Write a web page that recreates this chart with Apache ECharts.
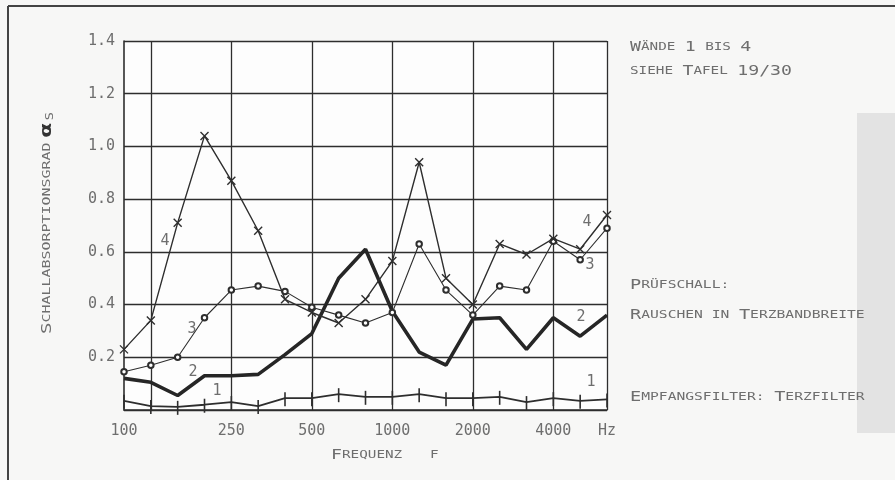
<!DOCTYPE html>
<html>
<head>
<meta charset="utf-8">
<script src="https://cdn.jsdelivr.net/npm/echarts@6/dist/echarts.min.js"></script>
<style>
html,body{margin:0;padding:0;background:#f7f7f6;}
#c{width:895px;height:480px;}
</style>
</head>
<body>
<div id="c"></div>
<script>
// Third-octave band centre frequencies (Hz)
const freqs = ['100','125','160','200','250','315','400','500','630','800','1000','1250','1600','2000','2500','3150','4000','5000','6300'];
// Sound absorption coefficient alpha_s for walls 1..4
const wall1 = [0.035,0.015,0.012,0.02,0.03,0.015,0.045,0.045,0.06,0.05,0.05,0.06,0.045,0.045,0.05,0.03,0.045,0.035,0.04];
const wall2 = [0.12,0.105,0.055,0.13,0.13,0.135,0.21,0.29,0.50,0.61,0.375,0.22,0.17,0.345,0.35,0.23,0.35,0.28,0.36];
const wall3 = [0.145,0.17,0.20,0.35,0.455,0.47,0.45,0.39,0.36,0.33,0.37,0.63,0.455,0.36,0.47,0.455,0.64,0.57,0.69];
const wall4 = [0.23,0.34,0.71,1.04,0.87,0.68,0.42,0.37,0.33,0.42,0.565,0.94,0.50,0.40,0.63,0.59,0.65,0.61,0.74];
// Tick labels on the frequency axis and vertical grid line frequencies
const xTickLabels = {'100':'100','250':'250','500':'500','1000':'1000','2000':'2000','4000':'4000','6300':'Hz'};
const gridFreqs = ['125','250','500','1000','2000','4000','6300'];
const yTicks = [0.2,0.4,0.6,0.8,1.0,1.2,1.4];

const FONT = 'DejaVu Sans Mono';
const INK = '#2e2e2e';
const GREY = '#6e6e6e';

const chart = echarts.init(document.getElementById('c'), null, {renderer:'canvas'});

const richSC = {
  b:{fontFamily:FONT,fontSize:14,fill:GREY},
  s:{fontFamily:FONT,fontSize:11,fill:GREY},
  n:{fontFamily:FONT,fontSize:14,fill:GREY}
};

function scText(x, y, txt, scaleX){
  return {type:'text', x:x, y:y, scaleX:scaleX, z:10,
    style:{text:txt, rich:richSC, fontFamily:FONT, fill:GREY, verticalAlign:'middle', align:'left'}};
}
function num(x, y, t){
  return {type:'text', x:x, y:y, z:10, style:{text:t, fontFamily:FONT, fontSize:15, fill:GREY, align:'center', verticalAlign:'middle'}};
}

const option = {
  animation:false,
  backgroundColor:'#f7f7f6',
  grid:{left:124, top:41, width:483, height:369, show:true, backgroundColor:'#fdfdfd', borderWidth:0},
  xAxis:{
    type:'category', data:freqs, boundaryGap:false,
    axisLine:{show:true, lineStyle:{color:INK, width:1.6}},
    axisTick:{show:false},
    axisLabel:{
      interval:(i, v)=> xTickLabels[v] !== undefined,
      formatter:(v)=> xTickLabels[v] || '',
      fontFamily:FONT, fontSize:15, color:GREY, margin:14
    },
    splitLine:{show:true, interval:(i, v)=> gridFreqs.indexOf(v) >= 0, lineStyle:{color:INK, width:1.3}}
  },
  yAxis:{
    type:'value', min:0, max:1.4, interval:0.2,
    axisLine:{show:true, lineStyle:{color:INK, width:1.6}},
    axisTick:{show:false},
    axisLabel:{
      formatter:(v)=> yTicks.some(t=>Math.abs(t-v)<1e-6) ? v.toFixed(1) : '',
      fontFamily:FONT, fontSize:15, color:GREY, margin:9
    },
    splitLine:{show:true, lineStyle:{color:INK, width:1.3}}
  },
  series:[
    {name:'1', type:'line', data:wall1, z:3,
      lineStyle:{color:INK, width:1.8},
      symbol:'rect', symbolSize:[1.6,14], symbolOffset:[0,1], showAllSymbol:true,
      itemStyle:{color:INK}},
    {name:'2', type:'line', data:wall2, z:4,
      lineStyle:{color:'#262626', width:3.6}, symbol:'none'},
    {name:'3', type:'line', data:wall3, z:5,
      lineStyle:{color:INK, width:1.1},
      symbol:'emptyCircle', symbolSize:5.5, showAllSymbol:true,
      itemStyle:{color:INK, borderColor:'#3a3a3a', borderWidth:0.9}},
    {name:'4', type:'line', data:wall4, z:6,
      lineStyle:{color:INK, width:1.4},
      symbol:'path://M0,0L10,10M10,0L0,10', symbolSize:8, showAllSymbol:true,
      itemStyle:{color:'none', borderColor:INK, borderWidth:1.4}}
  ],
  graphic:[
    {type:'line', shape:{x1:8,y1:6,x2:895,y2:6}, style:{stroke:'#444',lineWidth:2}, z:1},
    {type:'line', shape:{x1:8,y1:6,x2:8,y2:480}, style:{stroke:'#444',lineWidth:2}, z:1},
    {type:'rect', shape:{x:857,y:113,width:38,height:320}, style:{fill:'#e3e3e3'}, z:0},
    {type:'text', x:47, y:334, rotation:Math.PI/2, scaleX:1.36, z:10,
      style:{text:'{b|S}{s|CHALLABSORPTIONSGRAD} {a|α}{u|S}',
        rich:{
          b:{fontFamily:FONT,fontSize:14,fill:GREY},
          s:{fontFamily:FONT,fontSize:11,fill:GREY},
          a:{fontFamily:'DejaVu Sans',fontSize:16,fontWeight:'bold',fill:'#333'},
          u:{fontFamily:FONT,fontSize:10,fill:GREY,padding:[6,0,0,2]}
        },
        verticalAlign:'middle', align:'left'}},
    scText(331, 455, '{b|F}{s|REQUENZ}', 1.3),
    scText(430, 455, '{s|F}', 1.3),
    scText(630, 47, '{b|W}{s|ÄNDE} {n|1} {s|BIS} {n|4}', 1.3),
    scText(630, 71, '{s|SIEHE} {b|T}{s|AFEL} {n|19/30}', 1.3),
    scText(630, 285, '{b|P}{s|RÜFSCHALL:}', 1.33),
    scText(630, 315, '{b|R}{s|AUSCHEN IN} {b|T}{s|ERZBANDBREITE}', 1.33),
    scText(630, 397, '{b|E}{s|MPFANGSFILTER:} {b|T}{s|ERZFILTER}', 1.33),
    num(165, 241, '4'), num(192, 329, '3'), num(193, 372, '2'), num(217, 391, '1'),
    num(587, 222, '4'), num(590, 265, '3'), num(581, 317, '2'), num(591, 382, '1')
  ]
};
chart.setOption(option);
</script>
</body>
</html>
